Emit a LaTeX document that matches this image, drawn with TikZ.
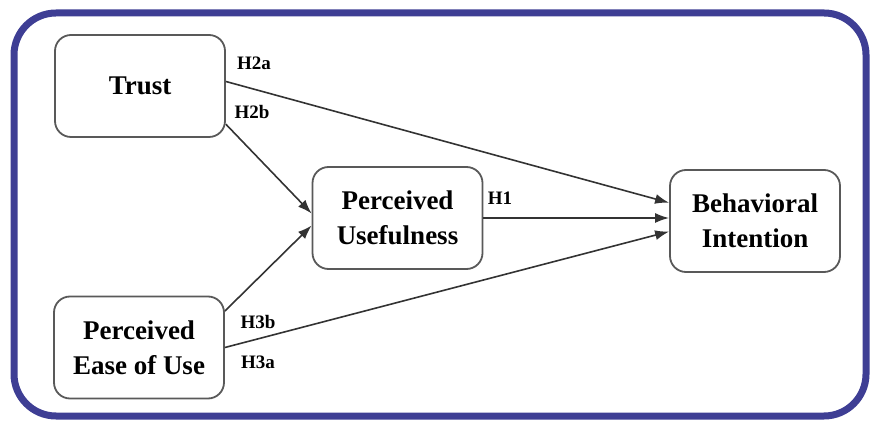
\documentclass[tikz,border=0pt]{standalone}
\usepackage{fontspec}
\setmainfont{Liberation Serif}
\usetikzlibrary{arrows.meta}
\definecolor{framenavy}{RGB}{62,62,148}

\begin{document}
\begin{tikzpicture}[
    x=0.5pt, y=-0.5pt,
    frame/.style={draw=framenavy, line width=3.5pt, rounded corners=21pt},
    construct/.style={rectangle, rounded corners=8pt, draw=black!65,
        line width=0.9pt, fill=white, minimum width=85pt, minimum height=51pt,
        align=center, font=\fontsize{13.5}{17.5}\selectfont\bfseries},
    hyp/.style={font=\fontsize{9.5}{11}\selectfont\bfseries, inner sep=1pt},
    link/.style={line width=0.8pt, draw=black!80,
        -{Latex[length=7pt, width=5pt]}}
]
    \useasboundingbox (0,0) rectangle (870,421);
    \draw[frame] (14,13) rectangle (866,416);

    \node[construct] (trust) at (140,86) {Trust};
    \node[construct] (peou) at (139,347.5) {Perceived\\Ease of Use};
    \node[construct] (pu) at (397.5,218) {Perceived\\Usefulness};
    \node[construct] (bi) at (755,221) {Behavioral\\Intention};

    \draw[link] (trust.3) -- (bi.168);
    \draw[link] (trust.-24) -- (pu.177);
    \draw[link] (peou.23) -- (pu.185);
    \draw[link] (pu.east) -- (pu.east -| bi.west);
    \draw[link] (peou.east) -- (bi.187);

    \node[hyp] (h2a) at (254,63) {H2a};
    \node[hyp] (h2b) at (252,112) {H2b};
    \node[hyp] (h1) at (500,198) {H1};
    \node[hyp] (h3b) at (258,322) {H3b};
    \node[hyp] (h3a) at (258,362) {H3a};
\end{tikzpicture}
\end{document}
